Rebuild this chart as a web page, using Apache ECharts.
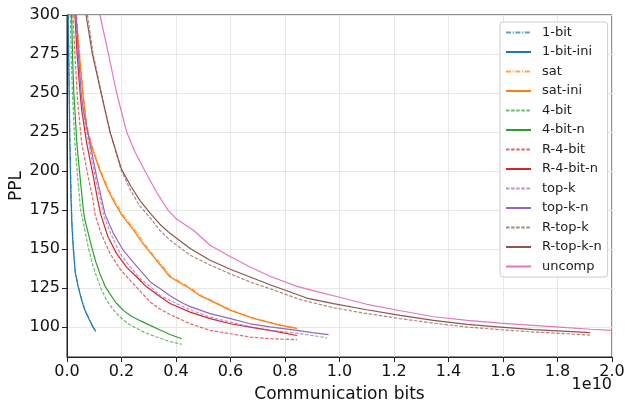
<!DOCTYPE html>
<html lang="en">
<head>
<meta charset="UTF-8">
<script src="https://cdn.jsdelivr.net/npm/echarts@6/dist/echarts.min.js"></script>
<title>PPL vs communication bits</title>
</head>
<body style="margin:0">
<div id="main" style="width:625px;height:404px;"></div>
<script>
// x in units of 1e10 bits, y = PPL
var yTicks = [100, 125, 150, 175, 200, 225, 250, 275, 300];

var bit1 = [[0.005,300],[0.008,260],[0.011,220],[0.014,195],[0.016,181],[0.019,165],[0.024,150],[0.031,135],[0.043,125],[0.055,117],[0.066,111],[0.079,106],[0.093,101],[0.106,97]];
var bit1Ini = [[0.004,300],[0.007,260],[0.010,220],[0.013,195],[0.015,181],[0.018,165],[0.023,150],[0.030,135],[0.042,125],[0.054,117],[0.065,111],[0.078,106],[0.092,101],[0.105,97.3]];
var sat = [[0.035,300],[0.047,275],[0.060,250],[0.074,228],[0.094,215],[0.124,200],[0.154,188],[0.175,181],[0.205,172],[0.250,162],[0.286,153],[0.322,145],[0.384,132],[0.410,129.5],[0.458,124.5],[0.494,120],[0.530,117],[0.605,110.6],[0.688,105.5],[0.772,101.6],[0.840,98.6]];
var satIni = [[0.033,300],[0.045,275],[0.058,250],[0.072,228],[0.091,215],[0.121,200],[0.150,188],[0.170,181],[0.200,172],[0.244,162],[0.280,153],[0.317,145],[0.378,132],[0.403,129.5],[0.452,124.5],[0.488,120],[0.525,117],[0.600,110.6],[0.684,105.5],[0.770,101.6],[0.845,99]];
var bit4 = [[0.012,300],[0.016,270],[0.020,250],[0.023,239],[0.029,218],[0.039,196],[0.050,175],[0.058,168.5],[0.078,151],[0.092,141],[0.109,132],[0.126,124],[0.146,117],[0.170,111],[0.195,106.3],[0.225,102],[0.256,99],[0.290,96],[0.329,93.5],[0.370,91],[0.421,88.8]];
var bit4n = [[0.017,300],[0.021,270],[0.025,250],[0.029,239],[0.036,218],[0.048,196],[0.060,175],[0.066,168.5],[0.078,160],[0.091,151],[0.105,142],[0.121,134],[0.140,126],[0.158,121],[0.180,115.5],[0.207,110.6],[0.235,107],[0.268,104],[0.305,101],[0.342,98],[0.380,95],[0.421,92.4]];
var r4bit = [[0.022,300],[0.029,275],[0.037,250],[0.042,239],[0.054,218],[0.078,196],[0.095,182],[0.103,172],[0.125,160],[0.158,147],[0.195,137],[0.231,130],[0.268,123],[0.305,116],[0.340,111.5],[0.378,108],[0.452,102],[0.525,97.8],[0.600,95.6],[0.672,93.5],[0.745,92.4],[0.844,91.8]];
var r4bitN = [[0.029,300],[0.037,275],[0.048,250],[0.054,239],[0.072,218],[0.097,196],[0.112,182],[0.124,172],[0.150,158],[0.182,147],[0.220,138],[0.256,132],[0.290,126],[0.329,121],[0.378,115],[0.452,109.5],[0.525,105.3],[0.600,102],[0.672,99.9],[0.745,97.8],[0.844,94.5]];
var topk = [[0.031,300],[0.040,275],[0.050,250],[0.057,239],[0.080,218],[0.104,196],[0.134,172],[0.160,160],[0.195,147],[0.230,139],[0.268,131],[0.305,126],[0.342,120],[0.378,117],[0.415,113.8],[0.452,111],[0.525,106.3],[0.600,103.1],[0.672,100],[0.745,97.8],[0.844,96],[0.900,94.5],[0.954,93]];
var topkN = [[0.033,300],[0.042,275],[0.052,250],[0.060,239],[0.084,218],[0.109,196],[0.140,172],[0.170,160],[0.207,149],[0.245,141],[0.280,134],[0.305,129],[0.354,123],[0.378,120],[0.427,115],[0.452,113],[0.525,108.5],[0.600,105.3],[0.672,102],[0.745,100],[0.844,97.8],[0.900,96.3],[0.960,95]];
var rTopk = [[0.075,300],[0.096,275],[0.126,250],[0.158,225],[0.198,201],[0.232,188],[0.265,178],[0.305,170],[0.340,162],[0.378,155.6],[0.452,146],[0.525,139.7],[0.599,134],[0.672,128.8],[0.745,124.5],[0.856,117.5],[0.978,112.3],[1.100,108.5],[1.223,105.3],[1.345,102.4],[1.468,99.9],[1.590,98.2],[1.713,96.7],[1.835,95.6],[1.920,94.7]];
var rTopkN = [[0.070,300],[0.093,275],[0.125,250],[0.158,225],[0.200,201],[0.235,190],[0.268,181],[0.305,173],[0.340,166],[0.378,160],[0.452,150.3],[0.525,142.7],[0.599,137],[0.672,132],[0.745,127],[0.819,122.4],[0.880,118.5],[0.978,114.9],[1.100,111],[1.223,107.4],[1.345,104.2],[1.468,101.6],[1.590,99.9],[1.713,98.2],[1.835,97.1],[1.920,96.3]];
var uncomp = [[0.121,300],[0.152,275],[0.182,250],[0.219,225],[0.250,212],[0.286,200],[0.330,186],[0.370,175],[0.403,169],[0.464,162],[0.525,152.4],[0.600,145],[0.672,138.4],[0.745,132.5],[0.844,126],[0.940,121.7],[1.000,119],[1.100,114.5],[1.220,110.5],[1.345,106.5],[1.470,104.2],[1.590,102.4],[1.710,101],[1.835,99.5],[1.920,98.5],[2.000,97.8]];

var font = 'DejaVu Sans';
var dashed = [3.5, 1.6];
var dashDot = [5, 1.6, 1.2, 1.6];

function line(name, data, color, type) {
    return {
        name: name,
        type: 'line',
        data: data,
        symbol: 'none',
        showSymbol: false,
        clip: true,
        lineStyle: {
            color: color,
            width: 1.2,
            type: type || 'solid',
            opacity: type ? 0.7 : 1
        },
        itemStyle: { color: color }
    };
}

var chart = echarts.init(document.getElementById('main'));
var option = {
    animation: false,
    textStyle: { fontFamily: font },
    grid: {
        left: 67, right: 13, top: 15, bottom: 47,
        outerBoundsMode: 'none',
        show: true, borderColor: '#222', borderWidth: 1
    },
    legend: {
        orient: 'vertical',
        left: 500, top: 22,
        padding: [4, 6, 4, 5],
        itemWidth: 25, itemHeight: 14, itemGap: 6.5,
        itemStyle: { opacity: 0 },
        borderColor: '#ccc', borderWidth: 1, borderRadius: 3,
        backgroundColor: 'rgba(255,255,255,0.85)',
        textStyle: { fontFamily: font, fontSize: 13, color: '#222', padding: [0, 0, 0, 6] }
    },
    xAxis: {
        type: 'value', min: 0, max: 2.0, interval: 0.2,
        name: 'Communication bits', nameLocation: 'middle', nameGap: 29,
        nameMoveOverlap: false,
        nameTextStyle: { fontSize: 17, color: '#111' },
        axisLine: { show: true, lineStyle: { color: '#222' } },
        axisTick: { show: true, length: 5, lineStyle: { color: '#222' } },
        axisLabel: { fontSize: 16, color: '#111', margin: 7, formatter: function (v) { return v.toFixed(1); } },
        splitLine: { show: true, lineStyle: { color: '#e8e8e8' } }
    },
    yAxis: {
        type: 'value', min: 80.7, max: 300,
        name: 'PPL', nameLocation: 'middle', nameGap: 42,
        nameMoveOverlap: false,
        nameTextStyle: { fontSize: 17, color: '#111' },
        axisLine: { show: true, lineStyle: { color: '#222' } },
        axisTick: { show: true, length: 5, customValues: yTicks, lineStyle: { color: '#222' } },
        axisLabel: { fontSize: 16, color: '#111', margin: 7, customValues: yTicks },
        splitLine: { show: true, customValues: yTicks, lineStyle: { color: '#e8e8e8' } }
    },
    graphic: [{
        type: 'text', right: 13, top: 377,
        style: { text: '1e10', fontFamily: font, fontSize: 16, fill: '#111' }
    }],
    series: [
        line('1-bit', bit1, '#1f77b4', dashDot),
        line('1-bit-ini', bit1Ini, '#1f77b4'),
        line('sat', sat, '#ff7f0e', dashDot),
        line('sat-ini', satIni, '#ff7f0e'),
        line('4-bit', bit4, '#2ca02c', dashed),
        line('4-bit-n', bit4n, '#2ca02c'),
        line('R-4-bit', r4bit, '#d62728', dashed),
        line('R-4-bit-n', r4bitN, '#d62728'),
        line('top-k', topk, '#9467bd', dashed),
        line('top-k-n', topkN, '#9467bd'),
        line('R-top-k', rTopk, '#8c564b', dashed),
        line('R-top-k-n', rTopkN, '#8c564b'),
        line('uncomp', uncomp, '#e377c2')
    ]
};
chart.setOption(option);
</script>
</body>
</html>
